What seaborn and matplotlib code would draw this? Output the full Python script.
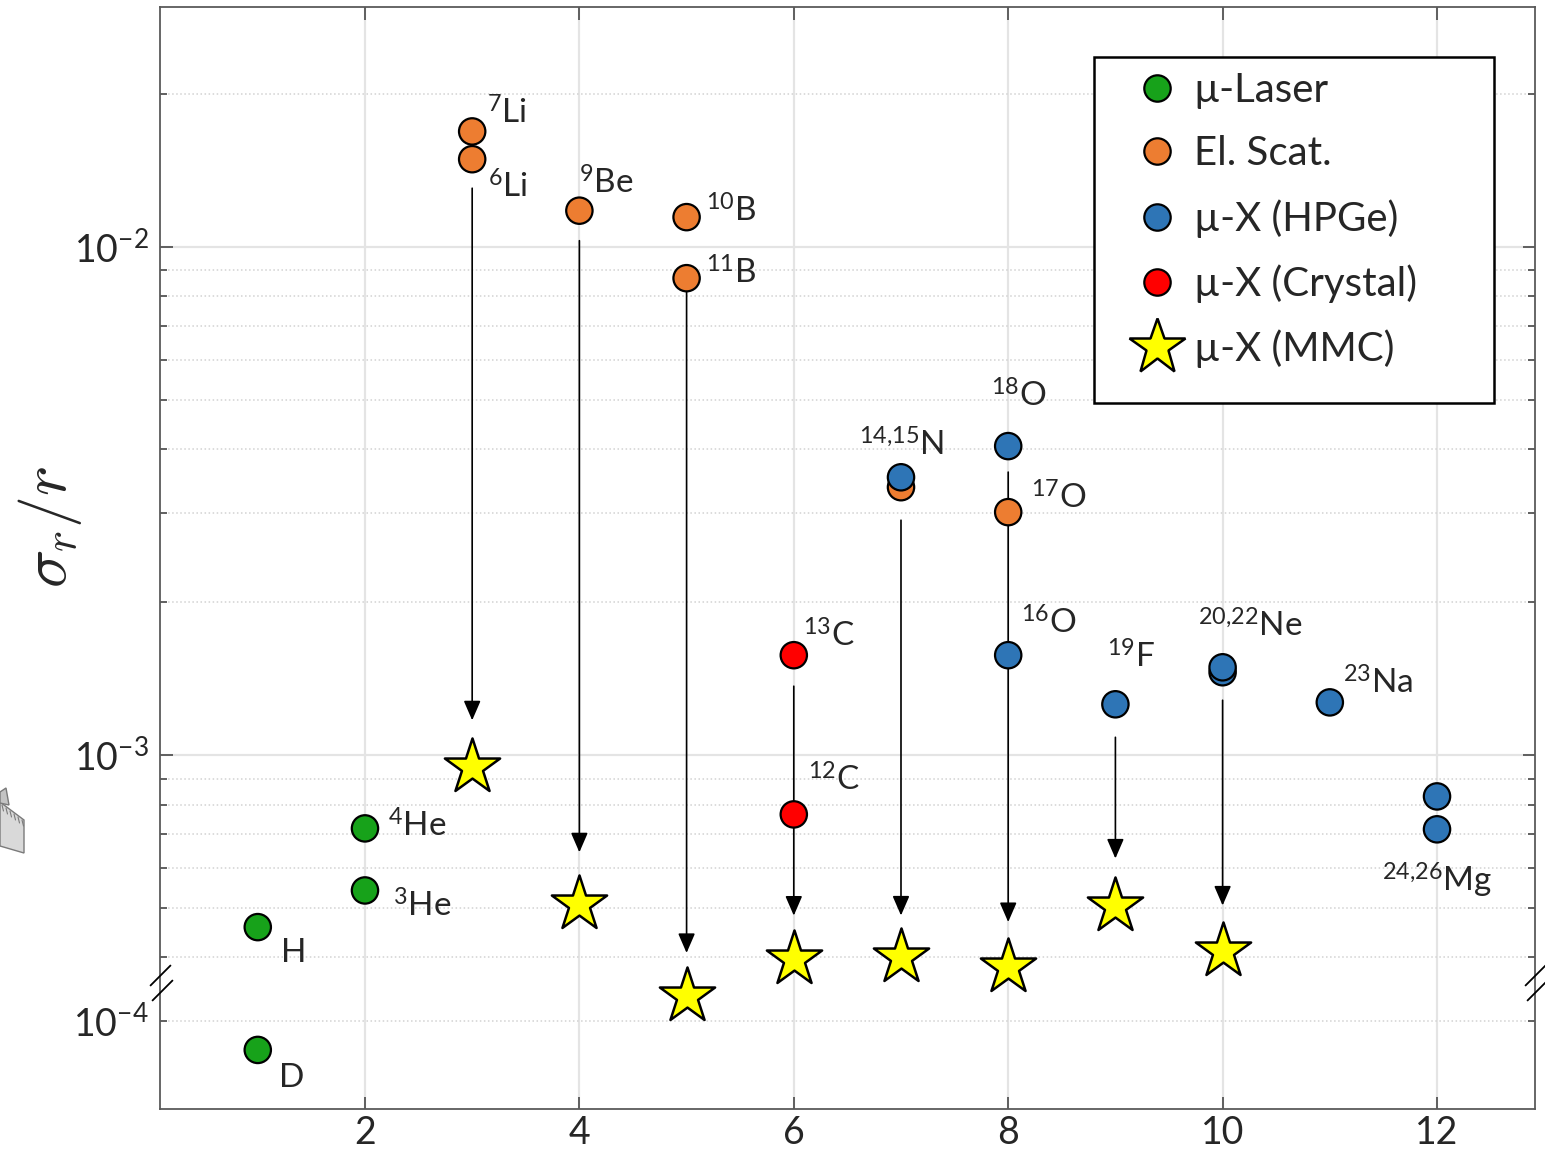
import numpy as np
import pandas as pd
import matplotlib
matplotlib.use("Agg")
import matplotlib.pyplot as plt
import matplotlib.transforms as mtransforms
from matplotlib.lines import Line2D
from matplotlib.patches import Polygon, Rectangle
import seaborn as sns

# ---------------------------------------------------------------- data
methods = ["µ-Laser", "El. Scat.", "µ-X (HPGe)", "µ-X (Crystal)"]
method_colors = ["#17A21A", "#ED7D31", "#2E75B6", "#FF0000"]

nuc_label = ["H", "D", "$^{3}$He", "$^{4}$He", "$^{6}$Li", "$^{7}$Li",
             "$^{9}$Be", "$^{10}$B", "$^{11}$B", "$^{12}$C", "$^{13}$C",
             "", "$^{14{,}15}$N", "$^{16}$O", "$^{17}$O", "$^{18}$O",
             "$^{19}$F", "", "$^{20{,}22}$Ne", "$^{23}$Na", "", "$^{24{,}26}$Mg"]
nuc_z = [1, 1, 2, 2, 3, 3, 4, 5, 5, 6, 6, 7, 7, 8, 8, 8, 9, 10, 10, 11, 12, 12]
nuc_val = [4.59e-4, 8.77e-5, 5.42e-4, 7.18e-4, 1.49e-2, 1.69e-2,
           1.18e-2, 1.146e-2, 8.69e-3, 7.65e-4, 1.574e-3,
           3.37e-3, 3.525e-3, 1.574e-3, 3.01e-3, 4.06e-3,
           1.26e-3, 1.457e-3, 1.49e-3, 1.271e-3, 8.3e-4, 7.15e-4]
nuc_method = [0, 0, 0, 0, 1, 1, 1, 1, 1, 3, 3, 1, 2, 2, 1, 2, 2, 2, 2, 2, 2, 2]

# projected MMC precision per element
mmc_z = [3, 4, 5, 6, 7, 8, 9, 10]
mmc_val = [9.47e-4, 5.09e-4, 1.12e-4, 3.98e-4, 4.0e-4, 3.83e-4, 5.04e-4, 4.11e-4]
# present-day value each arrow starts from
arrow_from = [1.49e-2, 1.18e-2, 8.69e-3, 1.574e-3, 3.37e-3, 4.06e-3, 1.26e-3, 1.457e-3]

x_ticks = [2, 4, 6, 8, 10, 12]

# ---------------------------------------------------------------- styling
# label offsets (pixels) from each point to the label's baseline-left corner
label_offset = {
    "H": (23, -35), "D": (21, -37), "$^{3}$He": (28, -26), "$^{4}$He": (23, -8),
    "$^{6}$Li": (16, -39), "$^{7}$Li": (15, 8), "$^{9}$Be": (0, 17),
    "$^{10}$B": (19, -5), "$^{11}$B": (19, -6), "$^{12}$C": (14, 24),
    "$^{13}$C": (9, 8), "$^{14{,}15}$N": (-42, 21), "$^{16}$O": (13, 21),
    "$^{17}$O": (23, 3), "$^{18}$O": (-17, 39), "$^{19}$F": (-8, 36),
    "$^{20{,}22}$Ne": (-25, 30), "$^{23}$Na": (13, 9), "$^{24{,}26}$Mg": (-55, -62),
}
# gaps (pixels) left free at the tail / head of each arrow
arrow_gap_tail = [29, 30, 14, 31, 33, 26, 33, 28]
arrow_gap_head = [47, 52, 43, 43, 42, 45, 48, 46]

sns.set_theme(style="white")
plt.rcParams["font.family"] = ["Lato", "DejaVu Sans"]
plt.rcParams["mathtext.fontset"] = "custom"
plt.rcParams["mathtext.rm"] = "Lato"
plt.rcParams["mathtext.it"] = "Lato:italic"
plt.rcParams["mathtext.bf"] = "Lato:bold"
plt.rcParams["mathtext.sf"] = "Lato"

# ---------------------------------------------------------------- broken log scale
BREAK_HI = 3.57e-4   # lowest value shown above the break
BREAK_LO = 1.19e-4   # highest value shown below the break
L_HI, L_LO = np.log10(BREAK_HI), np.log10(BREAK_LO)
SHIFT = L_HI - L_LO


def fwd(v):
    v = np.asarray(v, dtype=float)
    L = np.log10(np.clip(v, 1e-12, None))
    return np.where(L >= L_HI, L, np.where(L <= L_LO, L + SHIFT, L_HI))


def inv(y):
    y = np.asarray(y, dtype=float)
    return np.where(y >= L_HI, 10.0 ** y, 10.0 ** (y - SHIFT))


W, H = 1545, 1153
fig = plt.figure(figsize=(W / 100, H / 100), dpi=100)
ax = fig.add_axes([160 / W, 44 / H, 1375 / W, 1102 / H])
ax.set_yscale("function", functions=(fwd, inv))
ax.set_xlim(0.088, 12.914)
ax.set_ylim(6.71e-5, 2.97e-2)

# ---------------------------------------------------------------- marks
df = pd.DataFrame({"Z": nuc_z, "val": nuc_val,
                   "method": [methods[m] for m in nuc_method]})
palette = dict(zip(methods, method_colors))

for z, v0, v1, ga, gb in zip(mmc_z, arrow_from, mmc_val, arrow_gap_tail, arrow_gap_head):
    ax.annotate("", xy=(z, v1), xytext=(z, v0),
                arrowprops=dict(arrowstyle="-|>,head_length=0.6,head_width=0.26",
                                color="black", lw=1.2, mutation_scale=20,
                                shrinkA=ga * 0.72, shrinkB=gb * 0.72),
                zorder=3)

sns.scatterplot(data=df, x="Z", y="val", hue="method", palette=palette,
                s=360, edgecolor="black", linewidth=1.6, legend=False,
                ax=ax, zorder=4, clip_on=False)
sns.scatterplot(x=mmc_z, y=mmc_val, marker="*", s=1750, color="#FFFF00",
                edgecolor="black", linewidth=1.8, legend=False, ax=ax,
                zorder=5, clip_on=False)

for lab, z, v in zip(nuc_label, nuc_z, nuc_val):
    if not lab:
        continue
    dx, dy = label_offset[lab]
    ax.annotate(lab, xy=(z, v), xytext=(dx, dy), textcoords="offset pixels",
                ha="left", va="baseline", fontsize=24, zorder=6)

# ---------------------------------------------------------------- axes cosmetics
ax.set_xticks(x_ticks)
ax.set_xticklabels([str(t) for t in x_ticks])
ax.set_yticks([1e-3, 1e-2])
ax.set_yticklabels([r"$10^{-3}$", r"$10^{-2}$"])
minor_y = [1e-4] + [k * 1e-4 for k in range(4, 10)] + [k * 1e-3 for k in range(2, 10)] + [2e-2]
ax.set_yticks(minor_y, minor=True)
ax.set_yticklabels([r"$10^{-4}$"] + [""] * (len(minor_y) - 1), minor=True)
ax.set_xlabel("")
ax.set_ylabel("")

ax.tick_params(which="both", direction="in", left=True, right=True, top=True,
               bottom=True, color="#555555", width=1.3)
ax.tick_params(which="major", length=9, labelsize=27)
ax.tick_params(which="minor", length=5, labelsize=27)
ax.tick_params(axis="y", which="both", pad=8)
ax.tick_params(axis="x", which="both", pad=4)

ax.set_axisbelow(True)
ax.grid(which="major", color="#e4e4e4", lw=1.6, ls="-")
ax.grid(which="minor", axis="y", color="#d2d2d2", lw=1.1, ls=":")
for sp in ax.spines.values():
    sp.set_color("#5a5a5a")
    sp.set_linewidth(1.3)

# axis-break marks on both vertical spines
for xa in (0.0, 1.0):
    for dy in (-7.5, 7.5):
        tr = mtransforms.offset_copy(ax.get_yaxis_transform(), fig=fig,
                                     x=1.5 if dy < 0 else 0, y=dy, units="dots")
        ax.plot([xa], [BREAK_HI], marker=[(-1, -1), (1, 1)], ms=15, mew=1.3,
                color="black", transform=tr, clip_on=False, zorder=7, ls="")

fig.text(50 / W, 1 - 527 / H, r"$\sigma_r/r$", rotation=90, ha="center",
         va="center", fontsize=46, math_fontfamily="cm")

# ---------------------------------------------------------------- legend
box = (0.6793, 0.6407, 0.2909, 0.314)   # legend frame in axes fractions
ax.add_patch(Rectangle(box[:2], box[2], box[3], transform=ax.transAxes,
                       facecolor="white", edgecolor="black", lw=1.8,
                       zorder=7, clip_on=False))
handles = [Line2D([], [], ls="", marker="o", ms=19, mfc=c, mec="black", mew=1.6)
           for c in method_colors]
handles.append(Line2D([], [], ls="", marker="*", ms=42, mfc="#FFFF00",
                      mec="black", mew=1.8))
leg = ax.legend(handles, methods + ["µ-X (MMC)"], loc="upper left",
                bbox_to_anchor=(box[0], box[1] + box[3]), borderaxespad=0,
                fontsize=29, frameon=False, borderpad=0.37, labelspacing=0.66,
                handlelength=2.4, handletextpad=-0.3)
leg.set_zorder(8)

# partial ruler graphic at the left margin
ident = mtransforms.IdentityTransform()
fig.patches.append(Polygon([(0, H - 802), (24, H - 820), (24, H - 853), (0, H - 846)],
                           closed=True, facecolor="#d9d9d9", edgecolor="#7a7a7a",
                           lw=1, transform=ident))
fig.patches.append(Polygon([(0, H - 792), (6, H - 788), (9, H - 805), (0, H - 803)],
                           closed=True, facecolor="#c4c4c4", edgecolor="#7a7a7a",
                           lw=1, transform=ident))
for i in range(6):
    x0 = 2 + 4 * i
    y0 = 803.5 + 0.75 * (x0)
    fig.lines.append(Line2D([x0, x0 + 1.5], [H - y0, H - y0 - 6], color="#7a7a7a",
                            lw=0.8, transform=ident))

fig.savefig("out.png", dpi=100)
